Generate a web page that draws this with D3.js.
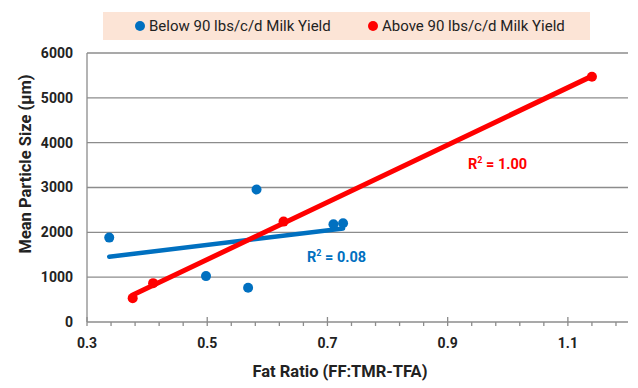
<!DOCTYPE html>
<html>
<head>
<meta charset="utf-8">
<script src="https://cdn.jsdelivr.net/npm/d3@7"></script>
<style>
  body { margin: 0; background: #fff; }
  svg { font-family: Roboto, "Open Sans", sans-serif; }
</style>
</head>
<body>
<svg width="638" height="388"></svg>
<script>
// data
var belowX = [0.337, 0.498, 0.568, 0.582, 0.710, 0.726];
var belowY = [1882, 1024, 764, 2954, 2179, 2201];
var aboveX = [0.376, 0.410, 0.627, 1.140];
var aboveY = [532, 867, 2239, 5471];
var seriesNames = ["Below 90 lbs/c/d Milk Yield", "Above 90 lbs/c/d Milk Yield"];
var xTicks = [0.3, 0.5, 0.7, 0.9, 1.1];
var yTicks = [0, 1000, 2000, 3000, 4000, 5000, 6000];

var blue = "#0070c0", red = "#ff0000";

var svg = d3.select("svg"),
    margin = {top: 53, right: 10, bottom: 66, left: 87},
    width = +svg.attr("width") - margin.left - margin.right,
    height = +svg.attr("height") - margin.top - margin.bottom,
    g = svg.append("g").attr("transform", "translate(" + margin.left + "," + margin.top + ")");

var x = d3.scaleLinear().domain([0.3, 1.2]).range([0, width]);
var y = d3.scaleLinear().domain([0, 6000]).range([height, 0]);

// least squares fit
function fit(xs, ys) {
  var mx = d3.mean(xs), my = d3.mean(ys), sxy = 0, sxx = 0, syy = 0;
  xs.forEach(function(v, i) {
    sxy += (v - mx) * (ys[i] - my);
    sxx += (v - mx) * (v - mx);
    syy += (ys[i] - my) * (ys[i] - my);
  });
  var b = sxy / sxx;
  return {a: my - b * mx, b: b, r2: sxy * sxy / (sxx * syy), x0: d3.min(xs), x1: d3.max(xs)};
}

// gridlines
g.append("g")
  .selectAll("line")
  .data(yTicks.filter(function(d) { return d > 0; }))
  .enter().append("line")
    .attr("x1", 0).attr("x2", width)
    .attr("y1", function(d) { return y(d); })
    .attr("y2", function(d) { return y(d); })
    .attr("stroke", "#8c8c8c")
    .attr("stroke-width", 1.3);

// axes lines
g.append("line").attr("x1", 0).attr("x2", 0).attr("y1", 0).attr("y2", height)
  .attr("stroke", "#8c8c8c").attr("stroke-width", 1.3);
g.append("line").attr("x1", 0).attr("x2", width).attr("y1", height).attr("y2", height)
  .attr("stroke", "#8c8c8c").attr("stroke-width", 1.3);

// x ticks: minor every 0.04
var minor = d3.range(0, 23).map(function(i) { return 0.3 + i * 0.04; }).filter(function(d) { return d <= 1.2001; });
g.append("g")
  .selectAll("line")
  .data(minor)
  .enter().append("line")
    .attr("x1", function(d) { return x(d); })
    .attr("x2", function(d) { return x(d); })
    .attr("y1", function(d) {
      var major = xTicks.some(function(t) { return Math.abs(t - d) < 1e-6; });
      return height - (major ? 5 : 0);
    })
    .attr("y2", height + 4)
    .attr("stroke", "#8c8c8c")
    .attr("stroke-width", 1.3);

// tick labels
g.append("g")
  .selectAll("text")
  .data(xTicks)
  .enter().append("text")
    .attr("x", function(d) { return x(d); })
    .attr("y", height + 26)
    .attr("text-anchor", "middle")
    .attr("font-size", 14)
    .attr("font-weight", "bold")
    .attr("fill", "#222")
    .text(function(d) { return d3.format(".1f")(d); });

g.append("g")
  .selectAll("text")
  .data(yTicks)
  .enter().append("text")
    .attr("x", -14)
    .attr("y", function(d) { return y(d); })
    .attr("dy", "0.35em")
    .attr("text-anchor", "end")
    .attr("font-size", 14)
    .attr("font-weight", "bold")
    .attr("fill", "#222")
    .text(function(d) { return d; });

// axis titles
svg.append("text")
  .attr("x", 340)
  .attr("y", 377)
  .attr("text-anchor", "middle")
  .attr("font-size", 16.5)
  .attr("font-weight", "bold")
  .attr("fill", "#222")
  .text("Fat Ratio (FF:TMR-TFA)");

svg.append("text")
  .attr("transform", "translate(31,164) rotate(-90)")
  .attr("text-anchor", "middle")
  .attr("font-size", 16.5)
  .attr("font-weight", "bold")
  .attr("fill", "#222")
  .text("Mean Particle Size (µm)");

// series
var series = [
  {name: seriesNames[0], xs: belowX, ys: belowY, color: blue, lw: 4.5, lx: 307, ly: 262},
  {name: seriesNames[1], xs: aboveX, ys: aboveY, color: red, lw: 5, lx: 468, ly: 169}
];

series.forEach(function(s) {
  var pts = s.xs.map(function(v, i) { return [v, s.ys[i]]; });
  g.append("g")
    .selectAll("circle")
    .data(pts)
    .enter().append("circle")
      .attr("cx", function(d) { return x(d[0]); })
      .attr("cy", function(d) { return y(d[1]); })
      .attr("r", 5)
      .attr("fill", s.color);
});

series.forEach(function(s) {
  var f = fit(s.xs, s.ys);
  g.append("line")
    .attr("x1", x(f.x0)).attr("y1", y(f.a + f.b * f.x0))
    .attr("x2", x(f.x1)).attr("y2", y(f.a + f.b * f.x1))
    .attr("stroke", s.color)
    .attr("stroke-width", s.lw)
    .attr("stroke-linecap", "round");
  var t = svg.append("text")
    .attr("x", s.lx).attr("y", s.ly)
    .attr("font-size", 14.5)
    .attr("font-weight", "bold")
    .attr("fill", s.color);
  t.append("tspan").text("R");
  t.append("tspan").attr("dy", -6).attr("font-size", 9).text("2");
  t.append("tspan").attr("dy", 6).text(" = " + d3.format(".2f")(f.r2));
});

// legend
var legend = svg.append("g");
legend.append("rect")
  .attr("x", 103).attr("y", 12)
  .attr("width", 487).attr("height", 28)
  .attr("fill", "#fce4d6");

var items = legend.selectAll("g")
  .data(series)
  .enter().append("g")
    .attr("transform", function(d, i) { return "translate(" + (i ? 373 : 140) + ",26)"; });

items.append("circle").attr("r", 5).attr("fill", function(d) { return d.color; });
items.append("text")
  .attr("x", 9)
  .attr("dy", "0.35em")
  .attr("font-size", 15)
  .attr("fill", "#222")
  .text(function(d) { return d.name; });
</script>
</body>
</html>
